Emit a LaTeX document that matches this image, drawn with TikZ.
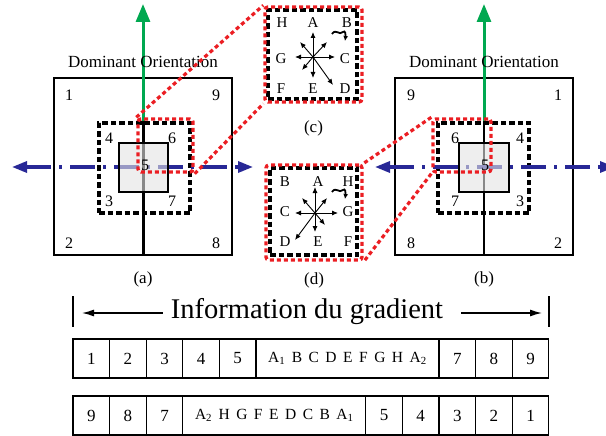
\documentclass[tikz,border=0pt]{standalone}
\usepackage{fontspec}
\setmainfont{Liberation Serif}
\usepackage{xcolor}
\usepackage{tikz}
\usetikzlibrary{arrows.meta, positioning, calc}
\definecolor{dotred}{RGB}{235,30,35}
\definecolor{domgreen}{RGB}{0,168,80}
\definecolor{axisblue}{RGB}{40,40,150}
\newcommand{\widespace}{\spaceskip=6.5pt\relax}

\begin{document}
\begin{tikzpicture}[
    x=1pt, y=-1pt,
    outerbox/.style={rectangle, draw, line width=1.6pt, minimum width=178pt, minimum height=177pt, inner sep=0pt},
    innerbox/.style={rectangle, draw, line width=2.8pt, fill=gray!22, fill opacity=0.6, minimum width=49pt, minimum height=49pt, inner sep=0pt},
    dashbox/.style={rectangle, draw, line width=3.4pt, dash pattern=on 5.5pt off 3pt, inner sep=0pt},
    redbox/.style={rectangle, draw=dotred, line width=3.4pt, dash pattern=on 4pt off 3pt, rounded corners=3pt, inner sep=0pt},
    redlink/.style={draw=dotred, line width=3.2pt, dash pattern=on 4pt off 3pt},
    uparrow/.style={-{Triangle[length=18pt,width=14pt]}, line width=3pt, draw=domgreen},
    sidearrow/.style={{Triangle[length=15pt,width=11pt]}-{Triangle[length=15pt,width=11pt]}, line width=3.2pt, draw=axisblue, dash pattern=on 25pt off 8pt on 3pt off 8pt},
    num/.style={font=\fontsize{16}{18}\selectfont, inner sep=0pt},
    letter/.style={font=\fontsize{15}{17}\selectfont, inner sep=0pt},
    caption/.style={font=\fontsize{17}{19}\selectfont, inner sep=0pt},
    star/.style={-{Latex[length=6pt,width=5pt]}, line width=0.9pt},
    curl/.style={-{Latex[length=5pt,width=5pt]}, line width=1.8pt},
    cell/.style={rectangle, draw, line width=1.3pt, minimum width=36.6pt, minimum height=39pt, inner sep=0pt, outer sep=0pt, font=\fontsize{17}{19}\selectfont},
    wide/.style={minimum width=183pt, font=\fontsize{15.5}{17}\selectfont},
    gradarrow/.style={-{Latex[length=12pt,width=7pt]}, line width=1.3pt},
]
\useasboundingbox (0,0) rectangle (606,436);

% Panel (a)
\node [outerbox] (outerA) at (143,166.5) {};
\coordinate (leftA) at (12,167);
\coordinate (rightA) at (253,167);
\coordinate (topA) at (143,4);
\node [dashbox] (dashA) at (144.5,168) [minimum width=91pt, minimum height=90pt] {};
\draw [line width=3pt] (outerA.center |- dashA.north) -- (outerA.south);
\draw [sidearrow] (leftA) -- (rightA);
\draw [uparrow] (outerA.center |- dashA.north) -- (topA);
\node [innerbox] (innerA) at (143.5,167.5) {};
\node [redbox] (redA) at (165.5,145.5) [minimum width=55pt, minimum height=53pt] {};
\node [caption, above=9pt of outerA] (domA) {Dominant Orientation};
\node [caption, below=16pt of outerA] (capA) {(a)};
\foreach \lab/\x/\y [count=\k] in {1/69/95, 9/216/95, 2/69/243, 8/216/243, 4/109/138, 6/172/138, 3/109/201, 7/172/201, 5/145/165}
    \node [num] (na\k) at (\x,\y) {\lab};

% Panel (b)
\node [outerbox] (outerB) at (484,166.5) {};
\coordinate (leftB) at (375,167);
\coordinate (rightB) at (615,167);
\coordinate (topB) at (484,4);
\node [dashbox] (dashB) at (483.5,168) [minimum width=91pt, minimum height=90pt] {};
\draw [line width=1.4pt] (outerB.center |- dashB.north) -- (outerB.south);
\draw [sidearrow] (leftB) -- (rightB);
\draw [uparrow] (outerB.center |- dashB.north) -- (topB);
\node [innerbox] (innerB) at (484,167.5) [minimum width=50pt] {};
\node [redbox] (redB) at (462,145.5) [minimum width=58pt, minimum height=53pt] {};
\node [caption, above=9pt of outerB] (domB) {Dominant Orientation};
\node [caption, below=16pt of outerB] (capB) {(b)};
\foreach \lab/\x/\y [count=\k] in {9/411/95, 1/558/95, 8/411/243, 2/558/243, 6/455/138, 4/520/138, 7/455/201, 3/520/201, 5/485/165}
    \node [num] (nb\k) at (\x,\y) {\lab};

% Panel (c)
\node [dashbox] (dashC) at (312.5,54.5) [minimum width=89pt, minimum height=89pt] {};
\node [redbox] (redC) at (313.5,54.5) [minimum width=97pt, minimum height=95pt] {};
\coordinate (starC) at (313,57);
\foreach \dx/\dy in {0/-25, 0/21, -18/0, 22/0, -13/-15, 14/-15, -11/13, 20/28}
    \draw [star] (starC) -- ++(\dx,\dy);
\draw [curl] (332,34) .. controls (336,28) and (339,36) .. (343,32) .. controls (345,30) and (346,34) .. (345,41);
\foreach \lab/\x/\y [count=\k] in {H/282/23, A/313/23, B/347/23, G/281/59, C/345/59, F/281/89, E/313/89, D/345/89}
    \node [letter] (lc\k) at (\x,\y) {\lab};
\node [caption, below=17pt of redC] (capC) {(c)};

% Panel (d)
\node [dashbox] (dashD) at (313.5,211.5) [minimum width=87pt, minimum height=87pt] {};
\node [redbox] (redD) at (314,212.5) [minimum width=96pt, minimum height=95pt] {};
\coordinate (starD) at (315,213);
\foreach \dx/\dy in {0/-26, 0/19, -20/0, 23/0, -13/-15, 12/-15, -20/27, 10/12}
    \draw [star] (starD) -- ++(\dx,\dy);
\draw [curl] (332,192) .. controls (336,186) and (339,194) .. (343,190) .. controls (345,188) and (346,192) .. (345,199);
\foreach \lab/\x/\y [count=\k] in {B/285/182, A/318/182, H/348/182, C/285/212, G/348/212, D/285/242, E/318/242, F/348/242}
    \node [letter] (ld\k) at (\x,\y) {\lab};
\node [caption, below=11pt of redD] (capD) {(d)};

% Zoom links
\draw [redlink] (redA.north west) -- (redC.north west);
\draw [redlink] (redA.south east) -- (redC.south west);
\draw [redlink] (redB.north west) -- (redD.north east);
\draw [redlink] (redB.south west) -- (redD.south east);

% Gradient vectors
\node [font=\fontsize{28.5}{30}\selectfont, inner sep=0pt, anchor=base] (title) at (307,318) {Information du gradient};
\coordinate (barL) at (73,313);
\coordinate (barR) at (549,313);
\draw [line width=1.2pt] (73,296) -- (73,327);
\draw [line width=1.2pt] (549,296) -- (549,327);
\draw [gradarrow] ($(title.west |- barL)+(-8,0)$) -- ($(barL)+(9,0)$);
\draw [gradarrow] ($(title.east |- barR)+(18,0)$) -- ($(barR)+(-7,0)$);

\foreach \lab [count=\i] in {1,2,3,4,5}
    \node [cell] (up\i) at ({54.7+36.6*\i},358.5) {\lab};
\node [cell, wide, right=0pt of up5] (up6) {\widespace A\textsubscript{1} B C D E F G H A\textsubscript{2}};
\foreach \lab [count=\i from 7] in {7,8,9} {
    \pgfmathtruncatemacro\prev{\i-1}
    \node [cell, right=0pt of up\prev] (up\i) {\lab};
}

\foreach \lab [count=\i] in {9,8,7}
    \node [cell] (dn\i) at ({54.7+36.6*\i},415.5) {\lab};
\node [cell, wide, right=0pt of dn3] (dn4) {\widespace A\textsubscript{2} H G F E D C B A\textsubscript{1}};
\foreach \lab [count=\i from 5] in {5,4,3,2,1} {
    \pgfmathtruncatemacro\prev{\i-1}
    \node [cell, right=0pt of dn\prev] (dn\i) {\lab};
}

\end{tikzpicture}
\end{document}
